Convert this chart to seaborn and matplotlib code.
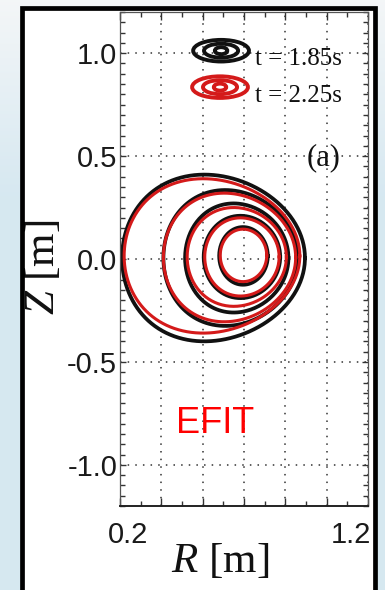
import numpy as np
import pandas as pd
import matplotlib
matplotlib.use("Agg")
import matplotlib.pyplot as plt
import seaborn as sns
from matplotlib.patches import Ellipse, Rectangle
from matplotlib.ticker import MultipleLocator
from matplotlib.transforms import ScaledTranslation

# ---- flux-surface extents (R in m, Z in m), outermost surface first ----
surface_ids = [1, 2, 3, 4, 5]
triangularity = [0.10, 0.08, 0.06, 0.04, 0.02]

# t = 1.85 s
r_in_185 = [0.21, 0.41, 0.515, 0.605, 0.68]
r_out_185 = [1.095, 1.06, 1.015, 0.975, 0.915]
z_top_185 = [0.41, 0.335, 0.27, 0.21, 0.155]
z_bot_185 = [-0.40, -0.325, -0.26, -0.19, -0.125]

# t = 2.25 s
r_in_225 = [0.22, 0.41, 0.525, 0.61, 0.685]
r_out_225 = [1.07, 1.05, 1.005, 0.97, 0.91]
z_top_225 = [0.39, 0.32, 0.25, 0.20, 0.145]
z_bot_225 = [-0.36, -0.305, -0.23, -0.18, -0.11]

time_labels = ["t = 1.85s", "t = 2.25s"]
x_ticks = [0.2, 0.4, 0.6, 0.8, 1.0, 1.2, 1.4]
x_tick_labels = ["0.2", "", "", "", "", "1.2", ""]
y_ticks = [-1.0, -0.5, 0.0, 0.5, 1.0]
y_tick_labels = ["-1.0", "-0.5", "0.0", "0.5", "1.0"]

BLACK = "#111111"
RED = "#d41a1a"

plt.rcParams["axes.unicode_minus"] = False
plt.rcParams["mathtext.fontset"] = "custom"
plt.rcParams["mathtext.rm"] = "Liberation Serif"
plt.rcParams["mathtext.it"] = "Liberation Serif:italic"


def surfaces_frame(r_in, r_out, z_top, z_bot, label):
    """Closed D-shaped contours through the given inboard/outboard/top/bottom extents."""
    theta = np.linspace(0, 2 * np.pi, 240)
    rows = []
    for sid, ri, ro, zt, zb, tri in zip(surface_ids, r_in, r_out, z_top, z_bot, triangularity):
        rc, a = (ri + ro) / 2, (ro - ri) / 2
        zc, b = (zt + zb) / 2, (zt - zb) / 2
        R = rc + a * np.cos(theta + tri * np.sin(theta))
        Z = zc + b * np.sin(theta)
        rows.append(pd.DataFrame({"R": R, "Z": Z, "surface": sid, "time": label}))
    return pd.concat(rows, ignore_index=True)


df185 = surfaces_frame(r_in_185, r_out_185, z_top_185, z_bot_185, time_labels[0])
df225 = surfaces_frame(r_in_225, r_out_225, z_top_225, z_bot_225, time_labels[1])

W, H = 385, 590
fig = plt.figure(figsize=(W / 100, H / 100), dpi=100)

# light slide-style background
bg = fig.add_axes([0, 0, 1, 1], zorder=-10)
grad = np.linspace(0, 1, 256)[:, None]
c_top = np.array([0.955, 0.965, 0.97])
c_bot = np.array([0.84, 0.91, 0.945])
mix = np.clip(grad * 3, 0, 1)[..., None]
img = c_top[None, None, :] * (1 - mix) + c_bot[None, None, :] * mix
bg.imshow(img, aspect="auto", extent=[0, 1, 0, 1], origin="upper")
bg.axis("off")

# white framed panel
x0, x1 = 22 / W, 374.5 / W
ytop = 1 - 7.5 / H
fig.patches.append(Rectangle((x0, -0.05), x1 - x0, ytop + 0.05, transform=fig.transFigure,
                             facecolor="white", edgecolor="none", zorder=-5))
fig.patches.append(Rectangle((x0, -0.05), x1 - x0, ytop + 0.05, transform=fig.transFigure,
                             facecolor="none", edgecolor="black", lw=3.4, zorder=5))

ax = fig.add_axes([120 / W, 1 - 506 / H, 248 / W, 494 / H])
ax.set_facecolor("white")

sns.lineplot(data=df185, x="R", y="Z", units="surface", estimator=None, sort=False,
             color=BLACK, lw=2.7, ax=ax, legend=False)
sns.lineplot(data=df225, x="R", y="Z", units="surface", estimator=None, sort=False,
             color=RED, lw=2.2, ax=ax, legend=False)

ax.set_xlim(0.2, 1.4)
ax.set_ylim(-1.2, 1.2)

ax.set_xticks(x_ticks)
ax.set_xticklabels(x_tick_labels)
ax.xaxis.set_minor_locator(MultipleLocator(0.1))
ax.set_yticks(y_ticks)
ax.set_yticklabels(y_tick_labels)
ax.yaxis.set_minor_locator(MultipleLocator(0.05))

for lbl in ax.get_xticklabels() + ax.get_yticklabels():
    lbl.set_fontfamily("Liberation Sans")
    lbl.set_fontsize(21)
    lbl.set_color("#1a1a1a")

ax.tick_params(which="both", direction="in", top=True, right=True, color="#333333")
ax.tick_params(axis="x", which="major", length=6, width=1.0, pad=11)
ax.tick_params(axis="x", which="minor", length=3.5, width=1.0)
ax.tick_params(axis="y", which="major", length=4, width=1.0, pad=2)
ax.tick_params(axis="y", which="minor", length=3.5, width=1.0)

# nudge the two R tick labels sideways
for lbl in ax.get_xticklabels():
    if lbl.get_text() == "0.2":
        lbl.set_transform(lbl.get_transform() + ScaledTranslation(0.08, 0, fig.dpi_scale_trans))
    elif lbl.get_text() == "1.2":
        lbl.set_transform(lbl.get_transform() + ScaledTranslation(0.24, 0, fig.dpi_scale_trans))

for side in ["left", "top", "right"]:
    ax.spines[side].set_color("#555555")
    ax.spines[side].set_linewidth(0.9)
ax.spines["bottom"].set_color("#222222")
ax.spines["bottom"].set_linewidth(1.4)

ax.grid(True, which="major", ls=(0, (1, 4)), lw=1.1, color="#333333")
ax.set_axisbelow(True)

ax.set_xlabel(r"$R$ [m]", fontsize=31, family="Liberation Serif", color="#111111")
ax.xaxis.set_label_coords(0.403, -0.073)
ax.set_ylabel(r"$Z$ [m]", fontsize=31, family="Liberation Serif", color="#111111")
ax.yaxis.set_label_coords(-0.23, 0.484)

# legend: concentric-ring keys with times
key_rings = [(0.27, 0.105), (0.165, 0.068), (0.06, 0.034)]
for (kr, kz), col, lab in zip([(0.689, 1.012), (0.684, 0.835)], [BLACK, RED], time_labels):
    for w, h in key_rings:
        ax.add_patch(Ellipse((kr, kz), w, h, fill=False, edgecolor=col, lw=2.8, zorder=4))
    ax.text(0.853, kz - 0.07, lab, fontsize=18, family="Liberation Serif",
            ha="left", va="baseline", color="#111111", zorder=4)

ax.text(1.187, 0.49, "(a)", fontsize=22, family="Liberation Serif",
        ha="center", va="center", color="#111111")
ax.text(0.66, -0.845, "EFIT", fontsize=26, family="Liberation Sans",
        ha="center", va="baseline", color="#ff0000")

fig.savefig("out.png", dpi=100)
